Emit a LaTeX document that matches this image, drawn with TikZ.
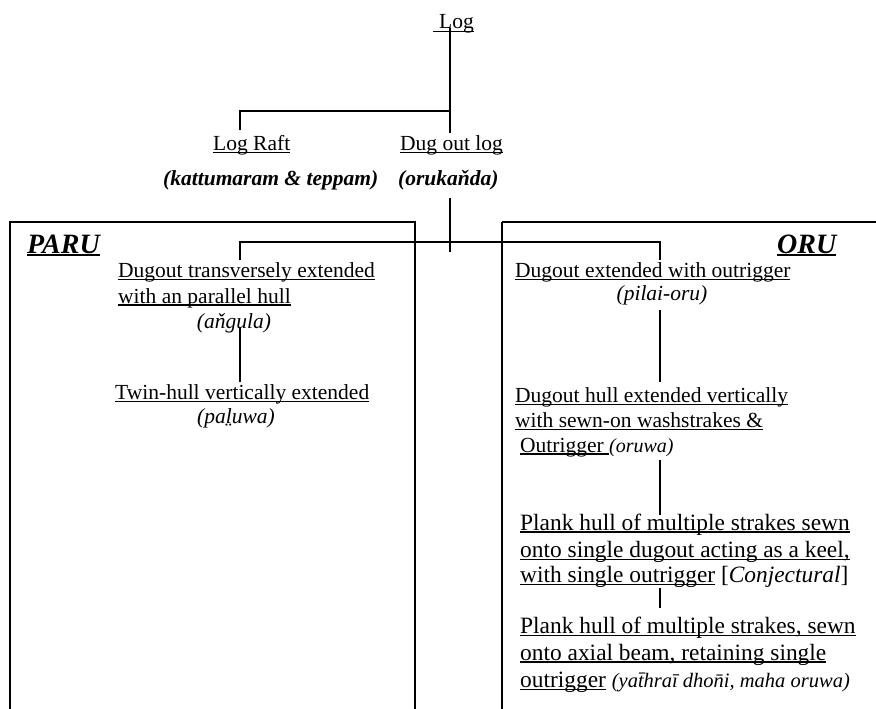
\documentclass[tikz,border=0pt]{standalone}
\usepackage{fontspec}
\setmainfont{Liberation Serif}
\newsavebox\ulbox
\newcommand\myul[2][1.3pt]{\sbox\ulbox{#2}\rlap{\rule[-3.4pt]{\wd\ulbox}{#1}}\usebox\ulbox}
\tikzset{
  txt/.style={anchor=base west, inner sep=0pt, font=\fontsize{21.5}{26}\selectfont},
  ctxt/.style={anchor=base, inner sep=0pt, font=\fontsize{21.5}{26}\selectfont\itshape},
  big/.style={anchor=base west, inner sep=0pt, font=\fontsize{23.4}{27}\selectfont},
  title/.style={anchor=base west, inner sep=0pt, font=\fontsize{28}{32}\selectfont\bfseries\itshape},
  conn/.style={line width=1.3pt},
  frame/.style={line width=2.6pt}
}
\begin{document}
\begin{tikzpicture}[x=1pt,y=-1pt]
\useasboundingbox[fill=white] (0,0) rectangle (876,709);

% frames
\draw[frame] (10,712) -- (10,222) -- (415,222) -- (415,712);
\draw[line width=2pt] (502,712) -- (502,222);
\draw[frame] (502,222) -- (879,222);

% top level
\node[txt] (log) at (433,29) {\myul{\hspace{6pt}Log}};
\node[txt] (raft) at (213,150) {\myul{Log Raft}};
\node[txt, font=\fontsize{21.5}{26}\selectfont\bfseries\itshape] (raftsub) at (163,185) {(kattumaram \& teppam)};
\node[txt] (dug) at (400,150) {\myul{Dug out log}};
\node[txt, font=\fontsize{21.5}{26}\selectfont\bfseries\itshape] (dugsub) at (398,185) {(orukaňda)};

\coordinate (logfoot) at (450,28);
\coordinate (split1) at (450,111);
\coordinate (rafttop) at (240,130);
\coordinate (dugtop) at (450,133);
\draw[conn] (logfoot) -- (dugtop);
\draw[conn] (split1) -| (rafttop);

\coordinate (dugfoot) at (450,198);
\coordinate (dugend) at (450,252);
\coordinate (split2) at (450,242);
\coordinate (parutop) at (240,260);
\coordinate (orutop) at (660,260);
\draw[conn] (dugfoot) -- (dugend);
\draw[conn] (parutop) |- (orutop |- split2) -- (orutop);

% titles
\node[title] (paru) at (27,253) {\myul[2.4pt]{PARU}};
\node[title] (oru) at (777,253) {\myul[2.4pt]{ORU}};

% PARU column
\node[txt] (p1a) at (118,277) {\myul{Dugout transversely extended}};
\node[txt] (p1b) at (118,303) {\myul[2.4pt]{with an parallel hull}};
\node[ctxt] (p1c) at (234,328) {(aňgula)};
\coordinate (p1foot) at (240,327);
\coordinate (p2top) at (240,382);
\draw[conn] (p1foot) -- (p2top);
\node[txt] (p2a) at (115,399) {\myul{Twin-hull vertically extended}};
\node[ctxt] (p2b) at (236,423) {(pal̤uwa)};

% ORU column
\node[txt] (o1a) at (515,277) {\myul{Dugout extended with outrigger}};
\node[ctxt] (o1b) at (662,300) {(pilai-oru)};
\coordinate (o1foot) at (660,310);
\coordinate (o2top) at (660,382);
\draw[conn] (o1foot) -- (o2top);

\node[txt] (o2a) at (515,402) {\myul{Dugout hull extended vertically}};
\node[txt] (o2b) at (515,427) {\myul{with sewn-on washstrakes \&}};
\node[txt] (o2c) at (520,452) {\myul[2pt]{Outrigger\ }{\fontsize{20}{24}\selectfont\itshape (oruwa)}};
\coordinate (o2foot) at (660,460);
\coordinate (o3top) at (660,515);
\draw[conn] (o2foot) -- (o3top);

\node[big] (o3a) at (520,530) {\myul[2.2pt]{Plank hull of multiple strakes sewn}};
\node[big] (o3b) at (520,557) {\myul{onto single dugout acting as a keel,}};
\node[big] (o3c) at (520,582) {\myul{with single outrigger} [\textit{Conjectural}]};
\coordinate (o3foot) at (660,588);
\coordinate (o4top) at (660,608);
\draw[conn] (o3foot) -- (o4top);

\node[big] (o4a) at (520,633) {\myul{Plank hull of multiple strakes, sewn}};
\node[big] (o4b) at (520,660) {\myul[2.4pt]{onto axial beam, retaining single}};
\node[big] (o4c) at (520,687) {\myul{outrigger} {\fontsize{20.5}{24}\selectfont\itshape (yat̄hraī dhon̄i, maha oruwa)}};
\end{tikzpicture}
\end{document}
